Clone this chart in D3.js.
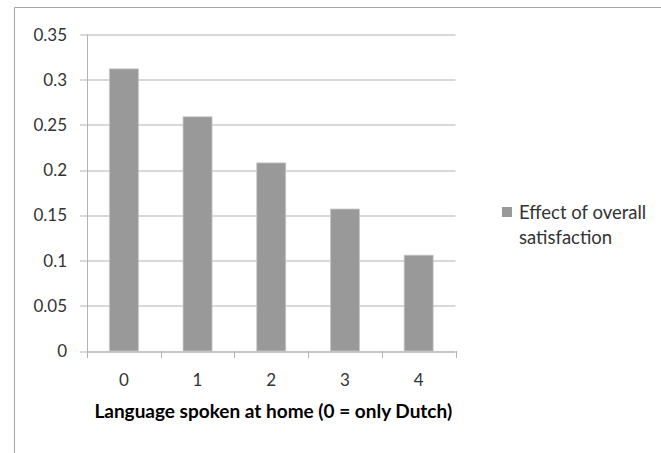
<!DOCTYPE html>
<html>
<head>
<style>
  body { margin: 0; background: #fff; }
  svg text { font-family: Lato, "Open Sans", sans-serif; fill: #333; }
</style>
</head>
<body>
<svg id="chart" width="661" height="453"></svg>
<script src="https://cdn.jsdelivr.net/npm/d3@7"></script>
<script>
  // values
  const categories = ["0", "1", "2", "3", "4"];
  const values = [0.312, 0.259, 0.208, 0.157, 0.106];
  const yTicks = [0, 0.05, 0.1, 0.15, 0.2, 0.25, 0.3, 0.35];
  const seriesName = ["Effect of overall", "satisfaction"];
  const xTitle = "Language spoken at home (0 = only Dutch)";

  const svg = d3.select("#chart");
  const margin = { left: 87, top: 34.5, right: 205.5, bottom: 102 };
  const width = 661 - margin.left - margin.right;
  const height = 453 - margin.top - margin.bottom;

  // chart frame (only top and left edges show in the picture)
  svg.append("path")
    .attr("d", "M14.5,453 V7.5 H661")
    .attr("fill", "none")
    .attr("stroke", "#a6a6a6");

  const g = svg.append("g").attr("transform", `translate(${margin.left},${margin.top})`);

  const xOuter = d3.scaleBand().domain(categories).range([0, width]);
  const y = d3.scaleLinear().domain([0, 0.35]).range([height, 0]);

  // gridlines + y ticks
  g.append("g")
    .selectAll("line")
    .data(yTicks)
    .join("line")
    .attr("x1", -7).attr("x2", width)
    .attr("y1", d => Math.round(y(d)) + 0.5).attr("y2", d => Math.round(y(d)) + 0.5)
    .attr("stroke", "#b3b3b3");

  g.append("g")
    .selectAll("text")
    .data(yTicks)
    .join("text")
    .attr("x", -20)
    .attr("y", d => y(d))
    .attr("dy", "0.36em")
    .attr("text-anchor", "end")
    .style("font-size", "17px")
    .text(d => d3.format("")(d));

  // bars
  g.append("g")
    .selectAll("rect")
    .data(values)
    .join("rect")
    .attr("x", (d, i) => xOuter(categories[i]) + xOuter.bandwidth() / 2 - 14.5)
    .attr("width", 29)
    .attr("y", d => y(d))
    .attr("height", d => height - y(d))
    .attr("fill", "#999999")
    .attr("stroke", "#c8c8c8")
    .attr("stroke-width", 0.8);

  // axes lines
  g.append("line")
    .attr("x1", 0.5).attr("x2", 0.5)
    .attr("y1", 0).attr("y2", height)
    .attr("stroke", "#b3b3b3");
  g.append("line")
    .attr("x1", 0).attr("x2", width)
    .attr("y1", Math.round(height) + 0.5).attr("y2", Math.round(height) + 0.5)
    .attr("stroke", "#b3b3b3");

  // x ticks between categories
  const xTickPos = categories.map(c => xOuter(c)).concat([width]);
  g.append("g")
    .selectAll("line")
    .data(xTickPos)
    .join("line")
    .attr("x1", d => Math.round(d) + 0.5).attr("x2", d => Math.round(d) + 0.5)
    .attr("y1", height).attr("y2", height + 7)
    .attr("stroke", "#b3b3b3");

  g.append("g")
    .selectAll("text")
    .data(categories)
    .join("text")
    .attr("x", d => xOuter(d) + xOuter.bandwidth() / 2)
    .attr("y", height + 29)
    .attr("dy", "0.36em")
    .attr("text-anchor", "middle")
    .style("font-size", "17px")
    .text(d => d);

  g.append("text")
    .attr("x", width / 2 + 2)
    .attr("y", height + 60)
    .attr("dy", "0.36em")
    .attr("text-anchor", "middle")
    .style("font-size", "19px")
    .style("font-weight", "bold")
    .style("fill", "#000")
    .text(xTitle);

  // legend
  const legend = svg.append("g").attr("transform", "translate(502,207)");
  legend.append("rect")
    .attr("width", 10).attr("height", 10)
    .attr("fill", "#999999");
  legend.selectAll("text")
    .data(seriesName)
    .join("text")
    .attr("x", 17)
    .attr("y", (d, i) => 5 + i * 25)
    .attr("dy", "0.36em")
    .style("font-size", "18.5px")
    .text(d => d);
</script>
</body>
</html>
